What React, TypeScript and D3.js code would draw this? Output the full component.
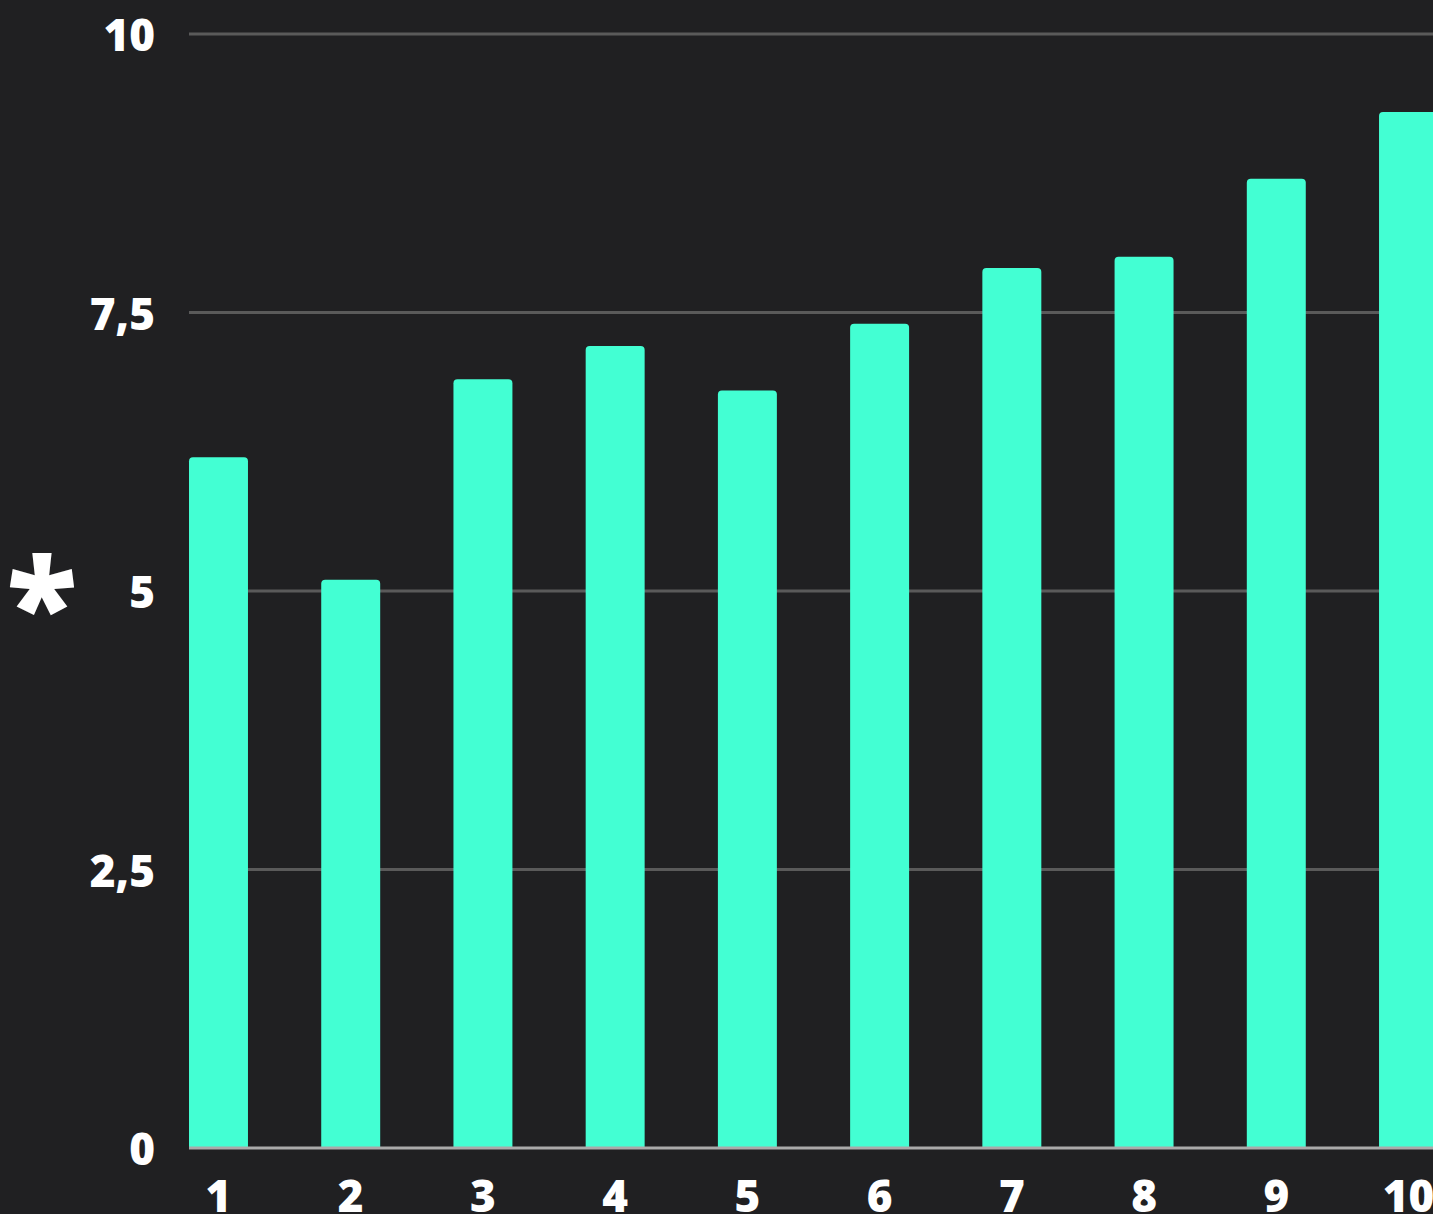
import React from 'react';
import * as d3 from 'd3';

const categories = ['1', '2', '3', '4', '5', '6', '7', '8', '9', '10'];
const values = [6.2, 5.1, 6.9, 7.2, 6.8, 7.4, 7.9, 8.0, 8.7, 9.3];
const yTicks = [0, 2.5, 5, 7.5, 10];
const yTitle = '*';

const App = () => {
  const width = 1433, height = 1214;
  const margin = {top: 34, left: 189, bottom: 66};
  const font = "'Open Sans', sans-serif";

  const x = d3.scaleBand()
    .domain(categories)
    .range([margin.left, 1438])
    .paddingInner(0.554)
    .paddingOuter(0);

  const y = d3.scaleLinear()
    .domain([0, 10])
    .range([height - margin.bottom, margin.top]);

  const fmt = (d) => String(d).replace('.', ',');

  return <svg width={width} height={height}
    style={{position: 'absolute', top: 0, left: 0, background: '#202022'}}>
    <rect x={0} y={0} width={width} height={height} fill="#202022" />
    {yTicks.filter(t => t > 0).map(t =>
      <line key={'g' + t} x1={margin.left} x2={width} y1={y(t)} y2={y(t)}
        stroke="#5a5a5a" strokeWidth={3} />
    )}
    {yTicks.map(t =>
      <text key={'t' + t} x={155} y={y(t)} textAnchor="end" dominantBaseline="central"
        fill="#fff" fontFamily={font} fontWeight={800} fontSize={44}>{fmt(t)}</text>
    )}
    {categories.map((c, i) => {
      const x0 = x(c), w = x.bandwidth(), y0 = y(values[i]), y1 = y(0), r = 4;
      const d = `M${x0},${y1}V${y0 + r}Q${x0},${y0} ${x0 + r},${y0}H${x0 + w - r}Q${x0 + w},${y0} ${x0 + w},${y0 + r}V${y1}Z`;
      return <path key={c} d={d} fill="#43ffd3" />;
    })}
    <line x1={margin.left} x2={width} y1={y(0)} y2={y(0)} stroke="#aaaaaa" strokeWidth={3} />
    {categories.map(c =>
      <text key={'x' + c} x={x(c) + x.bandwidth() / 2} y={1212} textAnchor="middle"
        fill="#fff" fontFamily={font} fontWeight={800} fontSize={44}>{c}</text>
    )}
    <text x={42} y={652} textAnchor="middle" fill="#fff" fontFamily={font}
      fontWeight={800} fontSize={130}>{yTitle}</text>
  </svg>;
};

export default App;
